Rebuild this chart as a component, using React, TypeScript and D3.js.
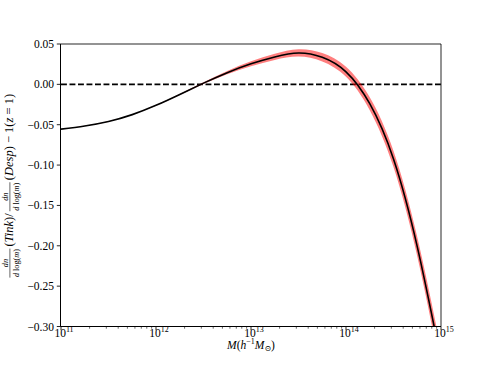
import React, { useEffect, useRef } from "react";
import * as d3 from "d3";

// log10(M) sample points, ratio values and band half-widths
const logMass = [11.0, 11.25, 11.5, 11.75, 12.0, 12.25, 12.5, 12.75, 13.0, 13.25, 13.5, 13.75, 14.0, 14.25, 14.5, 14.75, 15.0];
const ratio = [-0.0555, -0.0515, -0.046, -0.0375, -0.026, -0.0125, 0.0015, 0.0145, 0.0255, 0.034, 0.0389, 0.0335, 0.0155, -0.024, -0.0925, -0.201, -0.342];
const ratioErr = [0.0, 0.0001, 0.0002, 0.0003, 0.0004, 0.0007, 0.0012, 0.002, 0.003, 0.0038, 0.0045, 0.0052, 0.0062, 0.008, 0.01, 0.012, 0.014];
const yTicks = [0.05, 0.0, -0.05, -0.1, -0.15, -0.2, -0.25, -0.3];
const xTickExps = [11, 12, 13, 14, 15];

const W = 490;
const H = 368;
const L = 61;
const R = 441;
const T = 44;
const B = 326.5;
const FONT = "'Liberation Serif', 'DejaVu Serif', serif";

export default function App() {
  const labelRef = useRef<SVGGElement>(null);
  const x = d3.scaleLog().domain([1e11, 1e15]).range([L, R]);
  const y = d3.scaleLinear().domain([-0.3, 0.05]).range([B, T]);
  const pts = logMass.map((m, i) => ({ m: Math.pow(10, m), v: ratio[i], e: ratioErr[i] }));
  const line = d3.line<any>().x((d) => x(d.m)).y((d) => y(d.v)).curve(d3.curveNatural);
  const upper = d3.line<any>().x((d) => x(d.m)).y((d) => y(d.v + d.e)).curve(d3.curveNatural);
  const lower = d3.line<any>().x((d) => x(d.m)).y((d) => y(d.v - d.e)).curve(d3.curveNatural);
  const upPath = upper(pts) || "";
  const loPath = lower([...pts].reverse()) || "";
  const bandPath = upPath + "L" + loPath.slice(1) + "Z";

  const minor: number[] = [];
  for (let d = 11; d < 15; d++) for (let k = 2; k <= 9; k++) minor.push(k * Math.pow(10, d));

  useEffect(() => {
    const g = d3.select(labelRef.current);
    g.selectAll("*").remove();
    const fs = 12.5;
    const sfs = 8.2;
    let cursor = 0;
    const addFrac = () => {
      const fg = g.append("g").attr("transform", `translate(${cursor},0)`);
      const num = fg.append("text").attr("font-size", sfs).attr("y", -4.6).attr("text-anchor", "middle");
      num.append("tspan").attr("font-style", "italic").text("dn");
      const den = fg.append("text").attr("font-size", sfs).attr("y", 5.6).attr("text-anchor", "middle");
      den.append("tspan").attr("font-style", "italic").text("d");
      den.append("tspan").text(" log(");
      den.append("tspan").attr("font-style", "italic").text("m");
      den.append("tspan").text(")");
      const w =
        Math.max((num.node() as any).getComputedTextLength(), (den.node() as any).getComputedTextLength()) + 2;
      num.attr("x", w / 2);
      den.attr("x", w / 2);
      fg.append("line")
        .attr("x1", 0.5)
        .attr("x2", w - 0.5)
        .attr("y1", -3.1)
        .attr("y2", -3.1)
        .attr("stroke", "#000")
        .attr("stroke-width", 0.6);
      cursor += w + 1.5;
    };
    const addText = (parts: [string, boolean][]) => {
      const t = g.append("text").attr("font-size", fs).attr("x", cursor).attr("y", 0);
      parts.forEach(([s, it]) => {
        t.append("tspan").attr("font-style", it ? "italic" : "normal").text(s);
      });
      cursor += (t.node() as any).getComputedTextLength() + 1.5;
    };
    addFrac();
    addText([["(", false], ["Tink", true], [")", false], ["/", false]]);
    addFrac();
    addText([["(", false], ["Desp", true], [") − 1(", false], ["z", true], [" = 1)", false]]);
    g.attr("transform", `translate(13, ${(T + B) / 2}) rotate(-90) translate(${-cursor / 2},0)`);
  }, []);

  return (
    <svg
      width={W}
      height={H}
      viewBox={`0 0 ${W} ${H}`}
      style={{ position: "absolute", left: 0, top: 0, background: "#fff" }}
      fontFamily={FONT}
    >
      <rect x={0} y={0} width={W} height={H} fill="#fff" />
      <defs>
        <clipPath id="plotclip">
          <rect x={L} y={T} width={R - L} height={B - T} />
        </clipPath>
      </defs>
      <g clipPath="url(#plotclip)">
        <line x1={L} x2={R} y1={y(0)} y2={y(0)} stroke="#000" strokeWidth={1.6} strokeDasharray="5.9,2.6" />
        <path d={bandPath} fill="#ff0000" fillOpacity={0.5} stroke="none" />
        <path d={line(pts) || ""} fill="none" stroke="#000" strokeWidth={1.6} />
      </g>
      {/* spines */}
      <line x1={L} x2={R} y1={T} y2={T} stroke="#000" strokeWidth={0.85} />
      <line x1={R} x2={R} y1={T} y2={B} stroke="#000" strokeWidth={0.85} />
      <line x1={L - 0.5} x2={L - 0.5} y1={T} y2={B} stroke="#000" strokeWidth={1} />
      <line x1={L} x2={R} y1={B} y2={B} stroke="#000" strokeWidth={1} />
      {/* y ticks */}
      {yTicks.map((v) => (
        <g key={"y" + v}>
          <line x1={L - 4.2} x2={L} y1={y(v)} y2={y(v)} stroke="#000" strokeWidth={0.85} />
          <text x={L - 7} y={y(v) + 4} textAnchor="end" fontSize={11.5}>
            {(v < 0 ? "−" : "") + Math.abs(v).toFixed(2)}
          </text>
        </g>
      ))}
      {/* x ticks */}
      {minor.map((m) => (
        <line key={"m" + m} x1={x(m)} x2={x(m)} y1={B} y2={B + 2.2} stroke="#000" strokeWidth={0.6} />
      ))}
      {xTickExps.map((e) => (
        <g key={"x" + e}>
          <line x1={x(Math.pow(10, e))} x2={x(Math.pow(10, e))} y1={B} y2={B + 3.8} stroke="#000" strokeWidth={0.85} />
          <text x={x(Math.pow(10, e)) + 3} y={336.5} textAnchor="middle" fontSize={11.5}>
            10
            <tspan dy={-5} fontSize={8}>
              {e}
            </tspan>
          </text>
        </g>
      ))}
      {/* x label */}
      <text x={251} y={348.5} textAnchor="middle" fontSize={11.5}>
        <tspan fontStyle="italic">M</tspan>
        <tspan>(</tspan>
        <tspan fontStyle="italic">h</tspan>
        <tspan dy={-4.5} fontSize={8}>
          −1
        </tspan>
        <tspan dy={4.5} fontStyle="italic">
          M
        </tspan>
        <tspan dy={2.5} fontSize={8}>
          ⊙
        </tspan>
        <tspan dy={-2.5}>)</tspan>
      </text>
      <g ref={labelRef} fontFamily={FONT} />
    </svg>
  );
}
